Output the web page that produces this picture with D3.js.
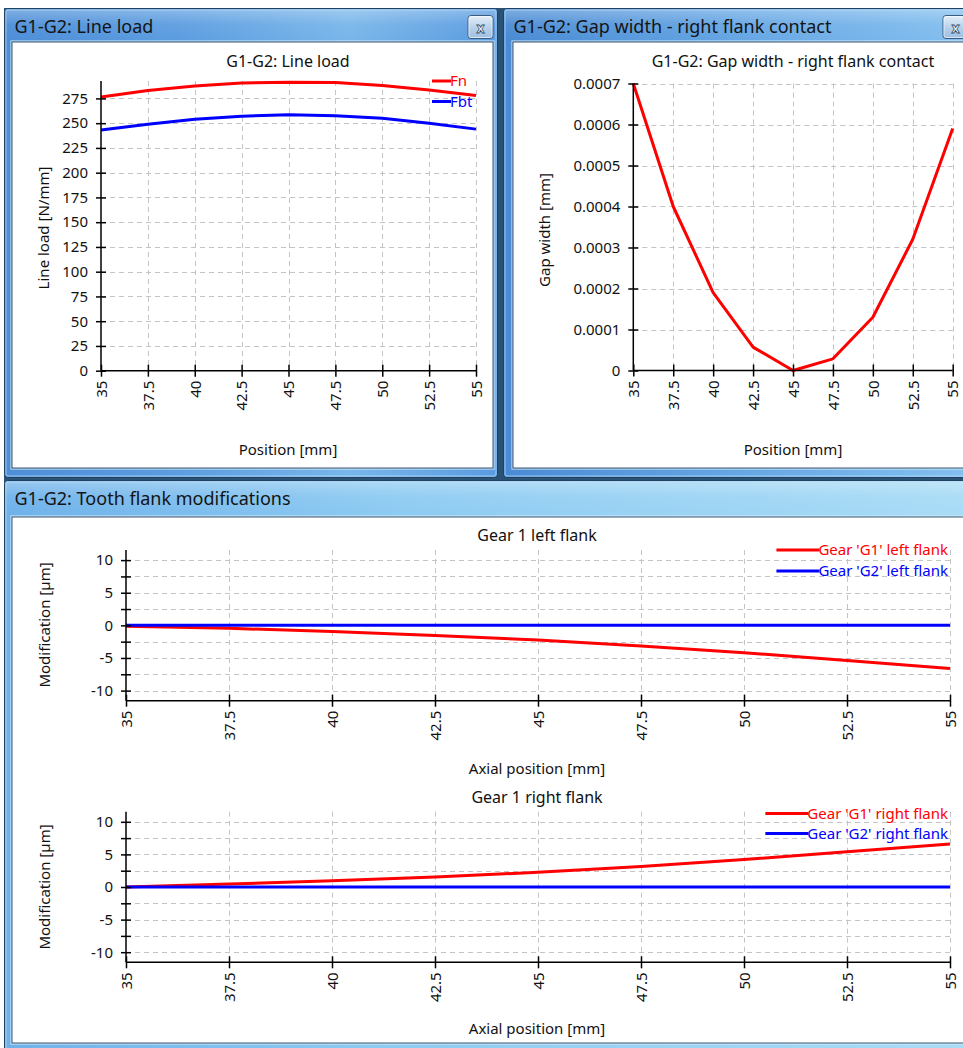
<!DOCTYPE html>
<html>
<head>
<meta charset="utf-8">
<script src="https://cdn.jsdelivr.net/npm/d3@7"></script>
<style>
  html, body { margin: 0; padding: 0; background: #ffffff; }
  svg { display: block; font-family: "Noto Sans", "Open Sans", sans-serif; }
</style>
</head>
<body>
<svg id="root" width="963" height="1048"></svg>
<script>
// ---------------- DATA ----------------
const positions = [35, 37.5, 40, 42.5, 45, 47.5, 50, 52.5, 55];
const xTickValues = [35, 37.5, 40, 42.5, 45, 47.5, 50, 52.5, 55];

const fnLoad  = [276.5, 283, 287.5, 290.5, 291.3, 291, 288, 283.5, 278];
const fbtLoad = [243, 249, 254, 257, 258.5, 257.5, 255, 250, 244];
const loadTicks = [0, 25, 50, 75, 100, 125, 150, 175, 200, 225, 250, 275];

const gapWidth = [0.0007, 0.0004, 0.00019, 0.000057, 0.0, 0.0000285, 0.00013, 0.00032, 0.00059];
const gapTicks = [0, 0.0001, 0.0002, 0.0003, 0.0004, 0.0005, 0.0006, 0.0007];

const g1LeftFlank  = [-0.15, -0.45, -0.95, -1.55, -2.25, -3.15, -4.2, -5.4, -6.6];
const g2LeftFlank  = [0, 0, 0, 0, 0, 0, 0, 0, 0];
const g1RightFlank = [0, 0.45, 0.95, 1.55, 2.25, 3.15, 4.2, 5.4, 6.6];
const g2RightFlank = [0, 0, 0, 0, 0, 0, 0, 0, 0];
const modTicks = [-10, -7.5, -5, -2.5, 0, 2.5, 5, 7.5, 10];
const modLabels = [-10, -5, 0, 5, 10];

// ---------------- CHROME ----------------
const svg = d3.select("#root");
const defs = svg.append("defs");

function hGrad(id, stops) {
  const g = defs.append("linearGradient").attr("id", id).attr("x1", 0).attr("x2", 1).attr("y1", 0).attr("y2", 0);
  stops.forEach(s => g.append("stop").attr("offset", s[0]).attr("stop-color", s[1]));
}
hGrad("frameTop", [[0, "#4d8ed7"], [0.35, "#5c9de0"], [0.7, "#79b6ea"], [1, "#5a9be0"]]);
hGrad("frameTop2", [[0, "#4a8bd4"], [0.5, "#66a6e4"], [1, "#84c0ef"]]);
hGrad("frameBot", [[0, "#6fb2ea"], [0.4, "#8ecbf2"], [1, "#a9dcf6"]]);
const vg = defs.append("linearGradient").attr("id", "gloss").attr("x1", 0).attr("x2", 0).attr("y1", 0).attr("y2", 1);
vg.append("stop").attr("offset", 0).attr("stop-color", "#ffffff").attr("stop-opacity", 0.28);
vg.append("stop").attr("offset", 0.5).attr("stop-color", "#ffffff").attr("stop-opacity", 0.05);
vg.append("stop").attr("offset", 1).attr("stop-color", "#ffffff").attr("stop-opacity", 0);
const bg = defs.append("linearGradient").attr("id", "btn").attr("x1", 0).attr("x2", 0).attr("y1", 0).attr("y2", 1);
bg.append("stop").attr("offset", 0).attr("stop-color", "#e6f0fa");
bg.append("stop").attr("offset", 0.5).attr("stop-color", "#b9d2ec");
bg.append("stop").attr("offset", 1).attr("stop-color", "#9dbfe2");

svg.append("rect").attr("x", 0).attr("y", 8).attr("width", 963).attr("height", 1040).attr("fill", "#ffffff");
svg.append("rect").attr("x", 4).attr("y", 8).attr("width", 959).attr("height", 1040).attr("fill", "#2a5275");

function windowFrame(x, y, w, h, fillId, title, panel, closeX) {
  const g = svg.append("g");
  g.append("rect").attr("x", x).attr("y", y).attr("width", w).attr("height", h)
    .attr("rx", 3).attr("fill", `url(#${fillId})`).attr("stroke", "#22405f").attr("stroke-width", 1);
  g.append("rect").attr("x", x + 1).attr("y", y + 1).attr("width", w - 2).attr("height", 30)
    .attr("fill", "url(#gloss)");
  g.append("rect").attr("x", x + 1.5).attr("y", y + 1.5).attr("width", w - 3).attr("height", h - 3)
    .attr("rx", 2).attr("fill", "none").attr("stroke", "#b9e0f8").attr("stroke-opacity", 0.7);
  g.append("rect").attr("x", panel[0] - 1.5).attr("y", panel[1] - 1.5).attr("width", panel[2] + 3).attr("height", panel[3] + 3)
    .attr("fill", "none").attr("stroke", "#d6eefb").attr("stroke-width", 1);
  g.append("rect").attr("x", panel[0] - 0.5).attr("y", panel[1] - 0.5).attr("width", panel[2] + 1).attr("height", panel[3] + 1)
    .attr("fill", "#ffffff").attr("stroke", "#3f5870").attr("stroke-width", 1);
  g.append("text").attr("x", x + 10).attr("y", y + 24).attr("font-size", 18).attr("fill", "#141414")
    .text(title);
  if (closeX !== null) {
    g.append("rect").attr("x", closeX).attr("y", y + 7).attr("width", 25).attr("height", 23).attr("rx", 3)
      .attr("fill", "url(#btn)").attr("stroke", "#3b5c7e");
    g.append("rect").attr("x", closeX + 1).attr("y", y + 8).attr("width", 23).attr("height", 21).attr("rx", 2)
      .attr("fill", "none").attr("stroke", "#ffffff").attr("stroke-opacity", 0.6);
    g.append("text").attr("x", closeX + 12.5).attr("y", y + 24).attr("text-anchor", "middle")
      .attr("font-size", 14).attr("font-weight", "bold").attr("fill", "#ffffff")
      .attr("stroke", "#34506c").attr("stroke-width", 0.8).text("x");
  }
}

windowFrame(4.5, 8.5, 493, 469, "frameTop", "G1-G2: Line load", [12.5, 42.5, 480, 425], 468);
windowFrame(503.5, 8.5, 470, 469, "frameTop2", "G1-G2: Gap width - right flank contact", [513.5, 42.5, 460, 425], 943);
windowFrame(4.5, 480.5, 975, 580, "frameBot", "G1-G2: Tooth flank modifications", [12.5, 517.5, 960, 525], null);

// ---------------- CHART HELPER ----------------
function chart(o) {
  const g = svg.append("g");
  const x = d3.scaleLinear().domain([35, 55]).range([o.x0, o.x1]);
  const y = d3.scaleLinear().domain(o.yDomain).range([o.yBottom, o.yTop]);

  const grid = g.append("g").attr("stroke", "#c4c4c4").attr("stroke-width", 1).attr("stroke-dasharray", "5,4");
  xTickValues.filter(v => v !== 35).forEach(v => {
    grid.append("line").attr("x1", Math.round(x(v)) + 0.5).attr("x2", Math.round(x(v)) + 0.5)
      .attr("y1", o.yTop).attr("y2", o.yBottom);
  });
  o.gridY.forEach(v => {
    grid.append("line").attr("x1", o.x0).attr("x2", o.x1)
      .attr("y1", Math.round(y(v)) + 0.5).attr("y2", Math.round(y(v)) + 0.5);
  });

  const line = d3.line().x((d, i) => x(positions[i])).y(d => y(d));
  o.series.forEach(s => {
    g.append("path").datum(s.values).attr("d", line).attr("fill", "none")
      .attr("stroke", s.color).attr("stroke-width", 3).attr("stroke-linejoin", "round");
  });

  const yAxis = d3.axisLeft(y).tickValues(o.yTicks).tickSize(5).tickPadding(8)
    .tickFormat(d => o.yLabelSet.includes(d) ? o.yFormat(d) : "");
  const ya = g.append("g").attr("transform", `translate(${o.x0},0)`).call(yAxis);
  ya.select(".domain").attr("d", `M0,${o.yTop}V${o.yBottom}`).attr("stroke", "#000").attr("stroke-width", 1.5);
  ya.selectAll(".tick line").attr("x1", 5).attr("x2", -5).attr("stroke", "#000").attr("stroke-width", 1.5);
  ya.selectAll(".tick text").attr("font-size", 15).attr("fill", "#111").attr("font-family", "Noto Sans");

  const xAxis = d3.axisBottom(x).tickValues(xTickValues).tickSize(5).tickFormat(d3.format("~g"));
  const xa = g.append("g").attr("transform", `translate(0,${o.yBottom})`).call(xAxis);
  xa.select(".domain").attr("d", `M${o.x0},0H${o.x1}`).attr("stroke", "#000").attr("stroke-width", 1.5);
  xa.selectAll(".tick line").attr("y1", -6).attr("y2", 6).attr("stroke", "#000").attr("stroke-width", 1.5);
  xa.selectAll(".tick text").attr("font-size", 15).attr("fill", "#111").attr("font-family", "Noto Sans")
    .attr("transform", "rotate(-90)").attr("x", -10).attr("y", 0).attr("dy", "0.35em").attr("text-anchor", "end");

  g.append("text").attr("x", o.cx).attr("y", o.titleY).attr("text-anchor", "middle")
    .attr("font-size", 16).attr("fill", "#111").text(o.title);
  g.append("text").attr("x", o.cx).attr("y", o.xLabelY).attr("text-anchor", "middle")
    .attr("font-size", 15).attr("fill", "#111").text(o.xLabel);
  g.append("text").attr("transform", `translate(${o.yLabelX},${o.yLabelCY}) rotate(-90)`)
    .attr("text-anchor", "middle").attr("dy", "0.35em")
    .attr("font-size", 15).attr("fill", "#111").text(o.yLabel);
  return { g, x, y };
}

// ---------------- TOP LEFT: LINE LOAD ----------------
const c1 = chart({
  x0: 101, x1: 476, yBottom: 370.7, yTop: 81, yDomain: [0, 292.6],
  yTicks: loadTicks, yLabelSet: loadTicks, yFormat: d => String(d), gridY: loadTicks.filter(v => v > 0),
  series: [{ values: fnLoad, color: "#ff0000" }, { values: fbtLoad, color: "#0000ff" }],
  title: "G1-G2: Line load", cx: 288, titleY: 67,
  xLabel: "Position [mm]", xLabelY: 455,
  yLabel: "Line load [N/mm]", yLabelX: 44, yLabelCY: 228
});
[["Fn", "#ff0000", 81], ["Fbt", "#0000ff", 101.5]].forEach(([t, c, yy]) => {
  c1.g.append("line").attr("x1", 432).attr("x2", 451).attr("y1", yy).attr("y2", yy)
    .attr("stroke", c).attr("stroke-width", 3);
  c1.g.append("text").attr("x", 450).attr("y", yy).attr("dy", "0.35em").attr("font-size", 15)
    .attr("fill", c).text(t);
});

// ---------------- TOP RIGHT: GAP WIDTH ----------------
chart({
  x0: 633.3, x1: 952.7, yBottom: 370.5, yTop: 83.5, yDomain: [0, 0.0007],
  yTicks: gapTicks, yLabelSet: gapTicks, yFormat: d => d === 0 ? "0" : d.toFixed(4),
  gridY: gapTicks.filter(v => v > 0),
  series: [{ values: gapWidth, color: "#ff0000" }],
  title: "G1-G2: Gap width - right flank contact", cx: 793, titleY: 67,
  xLabel: "Position [mm]", xLabelY: 455,
  yLabel: "Gap width [mm]", yLabelX: 545, yLabelCY: 230
});

// ---------------- BOTTOM: FLANK MODIFICATIONS ----------------
function flankLegend(g, items, yTop, gapY) {
  items.forEach((it, i) => {
    const yy = yTop + i * gapY;
    const t = g.append("text").attr("x", 948).attr("y", yy).attr("dy", "0.35em").attr("text-anchor", "end")
      .attr("font-size", 15).attr("fill", it[1]).text(it[0]);
    const w = t.node().getComputedTextLength();
    g.append("line").attr("x1", 948 - w - 42).attr("x2", 948 - w + 1).attr("y1", yy).attr("y2", yy)
      .attr("stroke", it[1]).attr("stroke-width", 3);
  });
}

const c3 = chart({
  x0: 126, x1: 950, yBottom: 700.7, yTop: 550, yDomain: [-11.55, 11.55],
  yTicks: modTicks, yLabelSet: modLabels, yFormat: d => String(d), gridY: modTicks,
  series: [{ values: g1LeftFlank, color: "#ff0000" }, { values: g2LeftFlank, color: "#0000ff" }],
  title: "Gear 1 left flank", cx: 537, titleY: 541,
  xLabel: "Axial position [mm]", xLabelY: 774,
  yLabel: "Modification [µm]", yLabelX: 45, yLabelCY: 625
});
flankLegend(c3.g, [["Gear 'G1' left flank", "#ff0000"], ["Gear 'G2' left flank", "#0000ff"]], 550, 21);

const c4 = chart({
  x0: 126, x1: 950, yBottom: 962.3, yTop: 811.7, yDomain: [-11.55, 11.55],
  yTicks: modTicks, yLabelSet: modLabels, yFormat: d => String(d), gridY: modTicks,
  series: [{ values: g1RightFlank, color: "#ff0000" }, { values: g2RightFlank, color: "#0000ff" }],
  title: "Gear 1 right flank", cx: 537, titleY: 803,
  xLabel: "Axial position [mm]", xLabelY: 1034,
  yLabel: "Modification [µm]", yLabelX: 45, yLabelCY: 887
});
flankLegend(c4.g, [["Gear 'G1' right flank", "#ff0000"], ["Gear 'G2' right flank", "#0000ff"]], 813.5, 20);
</script>
</body>
</html>
